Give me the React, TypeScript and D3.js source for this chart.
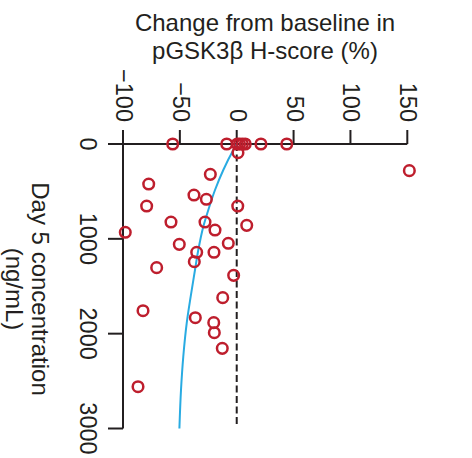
import React from "react";
import * as d3 from "d3";

// Scatter data: [day 5 concentration (ng/mL), change from baseline (%)]
const pointConc = [0, 0, 0, 0, 0, 0, 0, 0, 281, 92, 320, 422, 538, 583, 654, 654, 823, 823, 858, 907, 931, 1058, 1047, 1142, 1142, 1241, 1304, 1385, 1620, 1758, 1832, 1884, 1990, 2155, 2559];
const pointChange = [-56.3, -8.8, 0.5, 2.5, 5, 7.5, 21.3, 44, 151.8, 1.1, -23.2, -77.4, -37.6, -26.7, -79.2, 0.9, -57.8, -27.9, 8.8, -19.1, -98, -50.5, -7.4, -35.2, -20, -37.3, -70.4, -2.7, -12.3, -82.4, -36.4, -20.2, -19.7, -12.7, -86.8];

// Fitted curve
const curveConc = [0, 63, 274, 485, 696, 872, 1118, 1329, 1610, 1891, 2243, 2594, 3000];
const curveChange = [0, -3.0, -11.8, -19.1, -25.0, -29.4, -33.8, -36.7, -40.5, -44.0, -47.0, -49.0, -50.4];

const xTicks = [-100, -50, 0, 50, 100, 150];
const yTicks = [0, 1000, 2000, 3000];
const titleLines = ["Change from baseline in", "pGSK3\u03B2 H-score (%)"];
const yTitleLines = ["Day 5 concentration", "(ng/mL)"];

const W = 472;
const H = 458;
const FONT = "'Liberation Sans', Arial, Helvetica, sans-serif";
const AXIS = "#231f20";
const RED = "#be1e2d";
const BLUE = "#29abe2";
const TICK_FS = 23.5;
const TITLE_FS = 24;

export default function App() {
  const x = d3.scaleLinear().domain([-100, 150]).range([123, 407.3]);
  const y = d3.scaleLinear().domain([0, 3000]).range([144, 428.5]);
  const line = d3
    .line<number>()
    .x((_, i) => x(curveChange[i]))
    .y((_, i) => y(curveConc[i]))
    .curve(d3.curveMonotoneY);
  const curvePath = line(curveConc) || "";
  const fmt = (v: number) => (v < 0 ? "\u2212" + Math.abs(v) : String(v));

  return (
    <svg
      width={W}
      height={H}
      style={{ position: "absolute", left: 0, top: 0, background: "#fff" }}
      fontFamily={FONT}
    >
      {/* title */}
      {titleLines.map((t, i) => (
        <text key={t} x={265} y={31 + i * 27.5} fontSize={TITLE_FS} textAnchor="middle" fill={AXIS}>
          {t}
        </text>
      ))}
      {/* y title (rotated) */}
      {yTitleLines.map((t, i) => (
        <text
          key={t}
          transform={`translate(${32 - i * 26},289) rotate(90)`}
          fontSize={TITLE_FS}
          textAnchor="middle"
          fill={AXIS}
        >
          {t}
        </text>
      ))}
      {/* top axis */}
      <line x1={108} x2={x(150)} y1={y(0)} y2={y(0)} stroke={AXIS} strokeWidth={2} />
      {xTicks.map((t) => (
        <g key={t}>
          <line x1={x(t)} x2={x(t)} y1={y(0) - 14} y2={y(0)} stroke={AXIS} strokeWidth={2} />
          <text
            transform={`translate(${x(t) - 7},122) rotate(90)`}
            fontSize={TICK_FS}
            textAnchor="end"
            fill={AXIS}
          >
            {fmt(t)}
          </text>
        </g>
      ))}
      {/* left axis */}
      <line x1={x(-100)} x2={x(-100)} y1={y(0) - 14} y2={y(3000)} stroke={AXIS} strokeWidth={2} />
      {yTicks.map((t) => (
        <g key={t}>
          <line x1={x(-100) - 15} x2={x(-100)} y1={y(t)} y2={y(t)} stroke={AXIS} strokeWidth={2} />
          <text
            transform={`translate(80,${y(t)}) rotate(90)`}
            fontSize={TICK_FS}
            textAnchor="middle"
            fill={AXIS}
          >
            {t}
          </text>
        </g>
      ))}
      {/* zero reference line */}
      <line
        x1={x(0)}
        x2={x(0)}
        y1={y(0)}
        y2={y(3000) - 1}
        stroke={AXIS}
        strokeWidth={2}
        strokeDasharray="7 3.5"
      />
      {/* fitted curve */}
      <path d={curvePath} fill="none" stroke={BLUE} strokeWidth={2} />
      {/* points */}
      {pointConc.map((c, i) => (
        <circle
          key={i}
          cx={x(pointChange[i])}
          cy={y(c)}
          r={5.3}
          fill="none"
          stroke={RED}
          strokeWidth={2.5}
        />
      ))}
    </svg>
  );
}
